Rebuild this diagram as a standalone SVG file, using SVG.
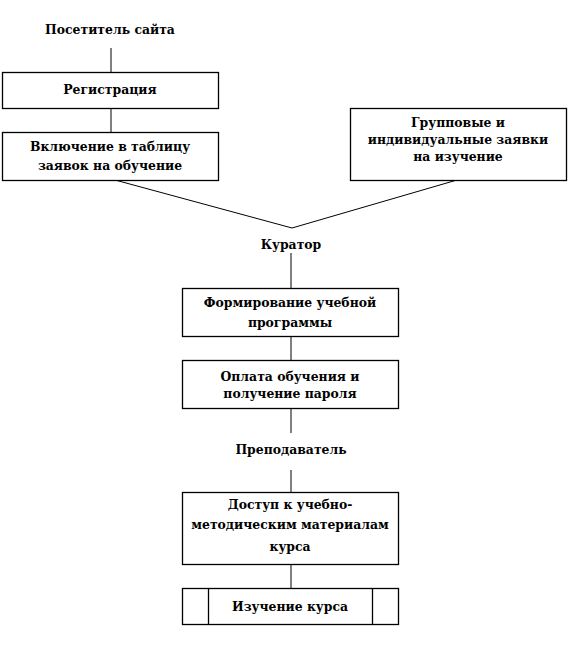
<svg xmlns="http://www.w3.org/2000/svg" width="570" height="648" viewBox="0 0 570 648">
<style>
.box{fill:#fff;stroke:#000;stroke-width:1.3}
.t{font-family:"DejaVu Serif",serif;font-weight:bold;font-size:12.4px;text-anchor:middle;fill:#000}
.v{stroke:#808080;stroke-width:2;fill:none}
.d{stroke:#000;stroke-width:1;fill:none}
</style>
<rect width="570" height="648" fill="#fff"/>
<g id="connectors">
<line class="v" x1="111" y1="48" x2="111" y2="72"/>
<line class="v" x1="111" y1="108" x2="111" y2="132"/>
<polyline class="d" points="115,180 292,228 457,180"/>
<line class="v" x1="291" y1="253" x2="291" y2="288"/>
<line class="v" x1="291" y1="337" x2="291" y2="360"/>
<line class="v" x1="291" y1="408" x2="291" y2="433"/>
<line class="v" x1="291" y1="470" x2="291" y2="492"/>
<line class="v" x1="291" y1="564" x2="291" y2="588"/>
</g>
<g id="visitor"><text class="t" x="110" y="34">Посетитель сайта</text></g>
<g id="registration"><rect class="box" x="2.5" y="72.5" width="216" height="36"/><text class="t" x="110" y="94">Регистрация</text></g>
<g id="inclusion"><rect class="box" x="2.5" y="132.5" width="216" height="48"/><text class="t" x="110" y="151">Включение в таблицу</text><text class="t" x="110" y="170">заявок на обучение</text></g>
<g id="requests"><rect class="box" x="350.5" y="108.5" width="216" height="72"/><text class="t" x="458" y="127">Групповые и</text><text class="t" x="458" y="144">индивидуальные заявки</text><text class="t" x="458" y="161">на изучение</text></g>
<g id="curator"><text class="t" x="291" y="249">Куратор</text></g>
<g id="program"><rect class="box" x="182.5" y="288.5" width="216" height="48"/><text class="t" x="290" y="307">Формирование учебной</text><text class="t" x="290" y="327">программы</text></g>
<g id="payment"><rect class="box" x="182.5" y="360.5" width="216" height="48"/><text class="t" x="290" y="381">Оплата обучения и</text><text class="t" x="290" y="398">получение пароля</text></g>
<g id="teacher"><text class="t" x="291" y="454">Преподаватель</text></g>
<g id="access"><rect class="box" x="182.5" y="492.5" width="216" height="72"/><text class="t" x="290" y="509">Доступ к учебно-</text><text class="t" x="290" y="529">методическим материалам</text><text class="t" x="290" y="551">курса</text></g>
<g id="study"><rect class="box" x="182.5" y="588.5" width="216" height="36"/><line class="box" x1="208.5" y1="588.5" x2="208.5" y2="624.5"/><line class="box" x1="372.5" y1="588.5" x2="372.5" y2="624.5"/><text class="t" x="290" y="611">Изучение курса</text></g>
</svg>
